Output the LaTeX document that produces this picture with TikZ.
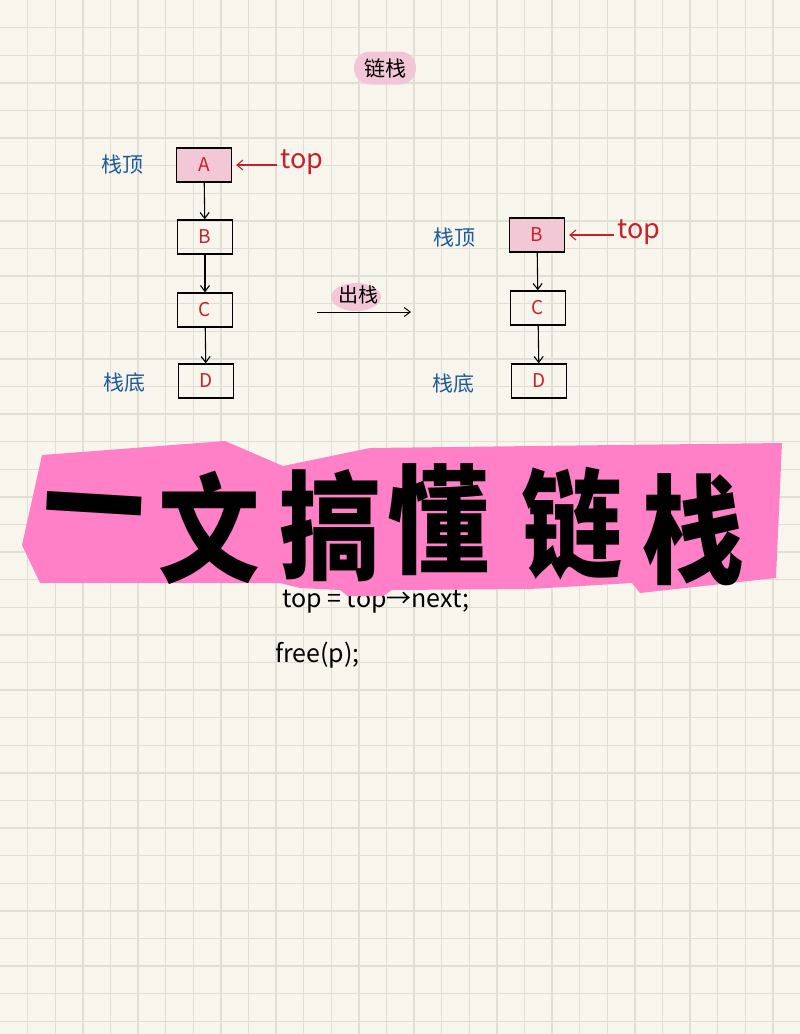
\documentclass[tikz,border=0pt]{standalone}
\usepackage{fontspec}
\setmainfont{Noto Sans CJK SC}
\newfontfamily\cjk{Noto Sans CJK SC}
\usetikzlibrary{arrows.meta}
\definecolor{bgc}{HTML}{F8F6EC}
\definecolor{gridc}{HTML}{E0DFD6}
\definecolor{pinkl}{HTML}{F2C6D6}
\definecolor{pinkbox}{HTML}{F2C8D6}
\definecolor{hotpink}{HTML}{FF80C6}
\definecolor{redt}{HTML}{C8202A}
\definecolor{bluet}{HTML}{1F5A9A}
\tikzset{
  stackbox/.style={draw=black, line width=1.3pt, minimum width=55pt, minimum height=34pt, inner sep=0pt, text=redt, font=\cjk\fontsize{19}{19}\selectfont},
  pinkfill/.style={fill=pinkbox},
  arr/.style={-{Straight Barb[length=6pt,width=9pt]}, line width=1.1pt, black},
  redarr/.style={{Straight Barb[length=6pt,width=10pt]}-, line width=1.1pt, redt},
  toplbl/.style={text=redt, font=\cjk\fontsize{27}{27}\selectfont, inner sep=0pt},
  bluelbl/.style={text=bluet, font=\cjk\fontsize{21}{21}\selectfont, inner sep=0pt},
  pill/.style={fill=pinkl, rounded corners=16pt, minimum height=33pt, inner xsep=10pt, font=\cjk\fontsize{21}{21}\selectfont},
  codetxt/.style={anchor=west, inner sep=0pt, font=\cjk\fontsize{25}{25}\selectfont},
  bigch/.style={inner sep=0pt, xscale=0.86, font=\cjk\bfseries\fontsize{118}{118}\selectfont}
}
\begin{document}
\begin{tikzpicture}[x=1pt,y=-1pt]
\useasboundingbox (0,0) rectangle (800,1034);
\fill[bgc] (0,0) rectangle (800,1034);
\foreach \i in {1,...,28} \draw[gridc, line width=1.4pt] (\i*27.6,0) -- (\i*27.6,1034);
\foreach \j in {1,...,37} \draw[gridc, line width=1.4pt] (0,\j*27.6) -- (800,\j*27.6);

% title
\node[pill] (title) at (385,68) {链栈};

% left stack
\node[stackbox, pinkfill] (A) at (204,165) {A};
\node[stackbox] (B) at (205,237) {B};
\node[stackbox] (C) at (205,310) {C};
\node[stackbox] (D) at (206,381) {D};
\draw[arr] (A) -- (B);
\draw[arr] (B) -- (C);
\draw[arr] (C) -- (D);
\node[toplbl] (topL) at (302,162) {top};
\draw[redarr] ([xshift=4pt]A.east) -- ([xshift=-3pt]topL.west |- A.east);
\node[bluelbl] (ltop) at (122,165) {栈顶};
\node[bluelbl] (lbot) at (124,383) {栈底};

% middle
\fill[pinkl] (356,297) ellipse (25pt and 14pt);
\node[inner sep=0pt, font=\cjk\fontsize{20}{20}\selectfont] (pop) at (358,295) {出栈};
\coordinate (p1) at (317,312);
\coordinate (p2) at (411,312);
\draw[arr, line width=1pt] (p1) -- (p2);

% right stack
\node[stackbox, pinkfill] (B2) at (537,235) {B};
\node[stackbox] (C2) at (538,308) {C};
\node[stackbox] (D2) at (539,381) {D};
\draw[arr] (B2) -- (C2);
\draw[arr] (C2) -- (D2);
\node[toplbl] (topR) at (639,232) {top};
\draw[redarr] ([xshift=4pt]B2.east) -- ([xshift=-3pt]topR.west |- B2.east);
\node[bluelbl] (rtop) at (454,238) {栈顶};
\node[bluelbl] (rbot) at (453,384) {栈底};

% code
\node[codetxt] (code1) at (282,602) {top = top→next;};
\node[codetxt] (code2) at (275,655) {free(p);};

% banner
\fill[hotpink] (42,455) -- (225,441) -- (283,466) -- (370,448) -- (782,443) -- (776,578) -- (640,593) -- (632,583) -- (530,589) -- (392,590) -- (383,596) -- (348,596) -- (340,590) -- (300,588) -- (280,583) -- (40,583) -- (22,545) -- cycle;
\node[bigch, rotate=-3] (t1) at (93,522) {一};
\node[bigch] (t2) at (209,528) {文};
\node[bigch] (t3) at (330,526) {搞};
\node[bigch] (t4) at (438,520) {懂};
\node[bigch] (t5) at (572,524) {链};
\node[bigch] (t6) at (693,530) {栈};
\end{tikzpicture}
\end{document}
